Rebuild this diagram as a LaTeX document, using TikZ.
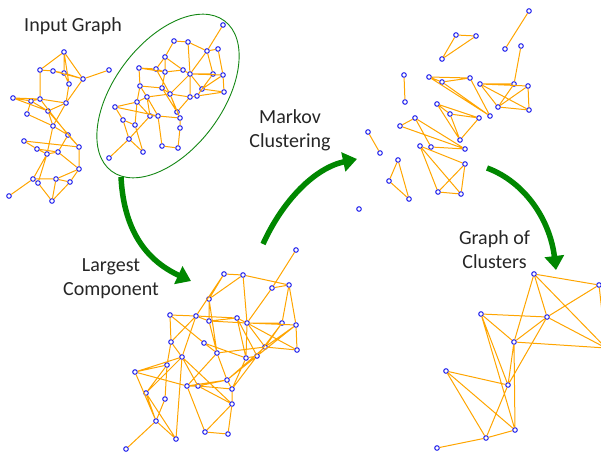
\documentclass[tikz,border=0pt]{standalone}
\usepackage{fontspec}
\setmainfont{Carlito}
\usepackage{tikz}
\usetikzlibrary{arrows.meta}

\definecolor{edgeorange}{RGB}{255,165,0}
\definecolor{nodeblue}{RGB}{10,10,235}
\definecolor{arrowgreen}{RGB}{0,135,0}
\definecolor{ringgreen}{RGB}{20,135,20}

\tikzset{
  vtx/.style={circle,draw=nodeblue,fill=white,line width=0.9pt,inner sep=0pt,minimum size=4.6pt},
  edge/.style={draw=edgeorange,line width=1pt},
  caption/.style={font=\fontsize{20}{24}\selectfont,align=center,text=black!85},
  bigarrow/.style={line width=5.5pt,draw=arrowgreen,-{Triangle[length=14pt,width=19pt]}}
}

\begin{document}
\begin{tikzpicture}[x=1pt,y=-1pt]
    \useasboundingbox (0,0) rectangle (601,454);
    \clip (0,0) rectangle (601,454);

    % Captions
    \node[caption] (input)   at (73,26)    {Input Graph};
    \node[caption] (largest) at (111,279)  {Largest\\Component};
    \node[caption] (markov)  at (290,130)  {Markov\\Clustering};
    \node[caption] (gclust)  at (494.5,250) {Graph of\\Clusters};

    % Input graph, left part
    \node[vtx] (I1)  at (64,52) {};
    \node[vtx] (I2)  at (40,70) {};
    \node[vtx] (I3)  at (53,71) {};
    \node[vtx] (I4)  at (64,73) {};
    \node[vtx] (I5)  at (69,84) {};
    \node[vtx] (I6)  at (83,79) {};
    \node[vtx] (I7)  at (109,70) {};
    \node[vtx] (I8)  at (13,98) {};
    \node[vtx] (I9)  at (31,101) {};
    \node[vtx] (I10) at (40,99) {};
    \node[vtx] (I11) at (66,103) {};
    \node[vtx] (I12) at (48,111) {};
    \node[vtx] (I13) at (27,114) {};
    \node[vtx] (I14) at (53,126) {};
    \node[vtx] (I15) at (68,135) {};
    \node[vtx] (I16) at (24,141) {};
    \node[vtx] (I17) at (37,149) {};
    \node[vtx] (I18) at (47,154) {};
    \node[vtx] (I19) at (58,152) {};
    \node[vtx] (I20) at (79,147) {};
    \node[vtx] (I21) at (79,169) {};
    \node[vtx] (I22) at (33,179) {};
    \node[vtx] (I23) at (38,183) {};
    \node[vtx] (I24) at (56,179) {};
    \node[vtx] (I25) at (70,182) {};
    \node[vtx] (I26) at (9,196) {};
    \node[vtx] (I27) at (52,201) {};
    \draw[edge] (I1) -- (I2) (I1) -- (I4) (I1) -- (I5) (I1) -- (I6) (I2) -- (I3)
                (I3) -- (I4) (I3) -- (I6) (I4) -- (I6) (I2) -- (I10) (I4) -- (I5)
                (I6) -- (I7) (I6) -- (I11) (I5) -- (I11) (I8) -- (I9) (I8) -- (I10)
                (I8) -- (I12) (I9) -- (I10) (I9) -- (I12) (I10) -- (I11) (I12) -- (I11)
                (I9) -- (I13) (I13) -- (I14) (I12) -- (I14) (I11) -- (I14) (I14) -- (I15)
                (I14) -- (I18) (I15) -- (I19) (I15) -- (I20) (I16) -- (I17) (I16) -- (I20)
                (I17) -- (I18) (I17) -- (I19) (I18) -- (I19) (I12) -- (I20) (I18) -- (I22)
                (I18) -- (I23) (I19) -- (I21) (I20) -- (I21) (I22) -- (I23) (I22) -- (I24)
                (I22) -- (I26) (I23) -- (I27) (I24) -- (I27) (I24) -- (I25) (I25) -- (I27)
                (I25) -- (I21) (I24) -- (I21) (I10) -- (I15);

    % Input graph, largest component inside the ring
    \node[vtx] (E1)  at (223,25) {};
    \node[vtx] (E2)  at (174,41) {};
    \node[vtx] (E3)  at (188,42) {};
    \node[vtx] (E4)  at (207,51) {};
    \node[vtx] (E5)  at (218,49) {};
    \node[vtx] (E6)  at (165,57) {};
    \node[vtx] (E7)  at (139,68) {};
    \node[vtx] (E8)  at (156,69) {};
    \node[vtx] (E9)  at (165,72) {};
    \node[vtx] (E10) at (183,70) {};
    \node[vtx] (E11) at (190,74) {};
    \node[vtx] (E12) at (213,74) {};
    \node[vtx] (E13) at (223,75) {};
    \node[vtx] (E14) at (140,86) {};
    \node[vtx] (E15) at (162,88) {};
    \node[vtx] (E16) at (170,94) {};
    \node[vtx] (E17) at (147,97) {};
    \node[vtx] (E18) at (190,97) {};
    \node[vtx] (E19) at (197,96) {};
    \node[vtx] (E20) at (202,89) {};
    \node[vtx] (E21) at (224,92) {};
    \node[vtx] (E22) at (115,107) {};
    \node[vtx] (E23) at (137,102) {};
    \node[vtx] (E24) at (177,112) {};
    \node[vtx] (E25) at (150,116) {};
    \node[vtx] (E26) at (158,116) {};
    \node[vtx] (E27) at (180,118) {};
    \node[vtx] (E28) at (123,120) {};
    \node[vtx] (E29) at (135,125) {};
    \node[vtx] (E30) at (180,128) {};
    \node[vtx] (E31) at (129,139) {};
    \node[vtx] (E32) at (162,146) {};
    \node[vtx] (E33) at (178,148) {};
    \node[vtx] (E34) at (143,152) {};
    \node[vtx] (E35) at (109,158) {};
    \draw[edge] (E1) -- (E4) (E2) -- (E3) (E2) -- (E6) (E3) -- (E4) (E3) -- (E11)
                (E4) -- (E12) (E5) -- (E13) (E4) -- (E11) (E6) -- (E9) (E6) -- (E10)
                (E7) -- (E8) (E7) -- (E14) (E8) -- (E9) (E9) -- (E10) (E10) -- (E11)
                (E11) -- (E12) (E11) -- (E20) (E11) -- (E18) (E11) -- (E13) (E12) -- (E20)
                (E13) -- (E20) (E13) -- (E21) (E20) -- (E21) (E19) -- (E20) (E18) -- (E19)
                (E16) -- (E11) (E15) -- (E16) (E14) -- (E15) (E14) -- (E17) (E16) -- (E17)
                (E16) -- (E18) (E16) -- (E24) (E16) -- (E27) (E17) -- (E25) (E17) -- (E23)
                (E22) -- (E23) (E22) -- (E28) (E22) -- (E26) (E23) -- (E29) (E23) -- (E25)
                (E25) -- (E26) (E26) -- (E27) (E24) -- (E27) (E28) -- (E29) (E28) -- (E31)
                (E29) -- (E34) (E31) -- (E34) (E31) -- (E35) (E26) -- (E32) (E32) -- (E33)
                (E30) -- (E33) (E27) -- (E30) (E14) -- (E23) (E9) -- (E15) (E12) -- (E19)
                (E7) -- (E9) (E24) -- (E18) (E4) -- (E5) (E8) -- (E16) (E17) -- (E26)
                (E15) -- (E24) (E19) -- (E21) (E25) -- (E31) (E6) -- (E8);

    % Ring round the largest component
    \begin{scope}[shift={(168,96)},rotate=53]
        \draw[ringgreen,line width=0.9pt] (0,0) ellipse [x radius=94pt, y radius=54pt];
    \end{scope}

    % Largest component
    \node[vtx] (L1)  at (296,250) {};
    \node[vtx] (L2)  at (224,274) {};
    \node[vtx] (L3)  at (243,275) {};
    \node[vtx] (L4)  at (272,288) {};
    \node[vtx] (L5)  at (289,285) {};
    \node[vtx] (L6)  at (209,299) {};
    \node[vtx] (L7)  at (170,315) {};
    \node[vtx] (L8)  at (196,316) {};
    \node[vtx] (L9)  at (209,321) {};
    \node[vtx] (L10) at (237,318) {};
    \node[vtx] (L11) at (247,323) {};
    \node[vtx] (L12) at (282,323) {};
    \node[vtx] (L13) at (296,325) {};
    \node[vtx] (L14) at (171,342) {};
    \node[vtx] (L15) at (204,343) {};
    \node[vtx] (L16) at (217,353) {};
    \node[vtx] (L17) at (265,347) {};
    \node[vtx] (L18) at (257,356) {};
    \node[vtx] (L19) at (246,358) {};
    \node[vtx] (L20) at (297,350) {};
    \node[vtx] (L21) at (182,357) {};
    \node[vtx] (L22) at (167,365) {};
    \node[vtx] (L23) at (135,372) {};
    \node[vtx] (L24) at (227,380) {};
    \node[vtx] (L25) at (187,386) {};
    \node[vtx] (L26) at (198,386) {};
    \node[vtx] (L27) at (232,389) {};
    \node[vtx] (L28) at (146,393) {};
    \node[vtx] (L29) at (165,399) {};
    \node[vtx] (L30) at (232,404) {};
    \node[vtx] (L31) at (156,421) {};
    \node[vtx] (L32) at (205,432) {};
    \node[vtx] (L33) at (228,434) {};
    \node[vtx] (L34) at (176,439) {};
    \node[vtx] (L35) at (126,449) {};
    \draw[edge] (L1) -- (L4) (L2) -- (L3) (L2) -- (L6) (L2) -- (L8) (L3) -- (L5)
                (L3) -- (L6) (L3) -- (L11) (L4) -- (L11) (L4) -- (L5) (L5) -- (L12)
                (L5) -- (L13) (L13) -- (L20) (L12) -- (L17) (L13) -- (L17) (L13) -- (L18)
                (L6) -- (L9) (L6) -- (L16) (L7) -- (L8) (L7) -- (L14) (L7) -- (L15)
                (L8) -- (L10) (L9) -- (L10) (L9) -- (L11) (L10) -- (L11) (L11) -- (L12)
                (L11) -- (L13) (L8) -- (L9) (L8) -- (L14) (L8) -- (L21) (L9) -- (L16)
                (L10) -- (L19) (L10) -- (L18) (L11) -- (L19) (L11) -- (L20) (L11) -- (L17)
                (L15) -- (L16) (L15) -- (L19) (L16) -- (L17) (L16) -- (L24) (L16) -- (L25)
                (L14) -- (L21) (L14) -- (L22) (L21) -- (L23) (L21) -- (L26) (L21) -- (L28)
                (L21) -- (L30) (L22) -- (L28) (L22) -- (L29) (L23) -- (L22) (L23) -- (L25)
                (L23) -- (L31) (L24) -- (L26) (L24) -- (L25) (L24) -- (L27) (L24) -- (L17)
                (L24) -- (L18) (L25) -- (L26) (L25) -- (L32) (L26) -- (L27) (L26) -- (L30)
                (L27) -- (L30) (L27) -- (L18) (L27) -- (L19) (L30) -- (L33) (L30) -- (L32)
                (L32) -- (L33) (L28) -- (L31) (L28) -- (L34) (L31) -- (L35) (L31) -- (L34)
                (L31) -- (L29) (L17) -- (L20) (L19) -- (L18) (L21) -- (L34) (L12) -- (L18);

    % Markov clustering
    \node[vtx] (M1)  at (529,11) {};
    \node[vtx] (M2)  at (505,49) {};
    \node[vtx] (M3)  at (521,46) {};
    \node[vtx] (M4)  at (456,35) {};
    \node[vtx] (M5)  at (476,36) {};
    \node[vtx] (M6)  at (442,59) {};
    \node[vtx] (M7)  at (404,75) {};
    \node[vtx] (M8)  at (405,102) {};
    \node[vtx] (M9)  at (429,77) {};
    \node[vtx] (M10) at (442,82) {};
    \node[vtx] (M11) at (470,78) {};
    \node[vtx] (M12) at (480,84) {};
    \node[vtx] (M13) at (514,84) {};
    \node[vtx] (M14) at (528,86) {};
    \node[vtx] (M15) at (498,107) {};
    \node[vtx] (M16) at (529,110) {};
    \node[vtx] (M17) at (490,116) {};
    \node[vtx] (M18) at (437,104) {};
    \node[vtx] (M19) at (450,114) {};
    \node[vtx] (M20) at (479,118) {};
    \node[vtx] (M21) at (460,140) {};
    \node[vtx] (M22) at (415,118) {};
    \node[vtx] (M23) at (400,126) {};
    \node[vtx] (M24) at (420,146) {};
    \node[vtx] (M25) at (431,147) {};
    \node[vtx] (M26) at (465,149) {};
    \node[vtx] (M27) at (465,164) {};
    \node[vtx] (M28) at (438,192) {};
    \node[vtx] (M29) at (461,194) {};
    \node[vtx] (M30) at (368,132) {};
    \node[vtx] (M31) at (380,153) {};
    \node[vtx] (M32) at (398,160) {};
    \node[vtx] (M33) at (389,181) {};
    \node[vtx] (M34) at (409,199) {};
    \node[vtx] (M35) at (359,209) {};
    \draw[edge] (M1) -- (M2) (M3) -- (M13) (M4) -- (M5) (M4) -- (M6) (M5) -- (M6)
                (M7) -- (M8) (M9) -- (M11) (M9) -- (M17) (M10) -- (M11) (M10) -- (M17)
                (M11) -- (M17) (M9) -- (M10) (M12) -- (M13) (M12) -- (M14) (M12) -- (M15)
                (M12) -- (M16) (M13) -- (M15) (M14) -- (M15) (M15) -- (M16) (M14) -- (M16)
                (M18) -- (M19) (M18) -- (M20) (M18) -- (M21) (M19) -- (M20) (M19) -- (M21)
                (M20) -- (M21) (M22) -- (M23) (M22) -- (M25) (M22) -- (M26) (M23) -- (M26)
                (M25) -- (M26) (M24) -- (M27) (M24) -- (M28) (M24) -- (M29) (M27) -- (M28)
                (M27) -- (M29) (M28) -- (M29) (M30) -- (M31) (M32) -- (M33) (M32) -- (M34)
                (M33) -- (M34);

    % Graph of clusters, G11 lies beyond the right edge
    \node[vtx] (G1)  at (534,274) {};
    \node[vtx] (G2)  at (599,285) {};
    \node[vtx] (G3)  at (481,314) {};
    \node[vtx] (G4)  at (547,317) {};
    \node[vtx] (G5)  at (514,342) {};
    \node[vtx] (G6)  at (446,371) {};
    \node[vtx] (G7)  at (508,385) {};
    \node[vtx] (G8)  at (515,430) {};
    \node[vtx] (G9)  at (486,438) {};
    \node[vtx] (G10) at (437,448) {};
    \node[vtx] (G11) at (606,348) {};
    \draw[edge] (G1) -- (G2) (G1) -- (G4) (G1) -- (G5) (G1) -- (G11) (G2) -- (G4)
                (G2) -- (G11) (G3) -- (G4) (G3) -- (G5) (G3) -- (G8) (G3) -- (G7)
                (G4) -- (G5) (G4) -- (G7) (G4) -- (G11) (G5) -- (G11) (G5) -- (G7)
                (G5) -- (G8) (G6) -- (G7) (G6) -- (G8) (G6) -- (G9) (G7) -- (G9)
                (G9) -- (G8) (G9) -- (G10);

    % Green arrows between the stages
    \coordinate (A1s) at (121,177);
    \coordinate (A1e) at (191,281);
    \coordinate (A2s) at (263,244);
    \coordinate (A2e) at (357,159);
    \coordinate (A3s) at (487,168);
    \coordinate (A3e) at (556,270);
    \draw[bigarrow] (A1s) .. controls (124,235) and (150,262) .. (A1e);
    \draw[bigarrow] (A2s) .. controls (283,200) and (315,168) .. (A2e);
    \draw[bigarrow] (A3s) .. controls (525,182) and (550,220) .. (A3e);
\end{tikzpicture}
\end{document}
